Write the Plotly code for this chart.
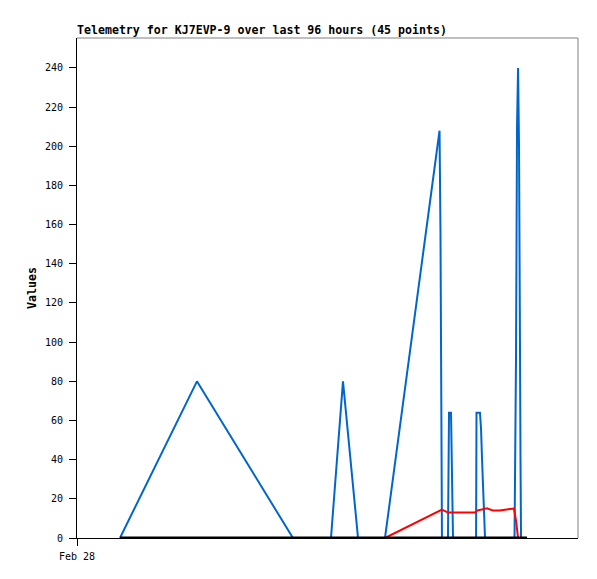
import plotly.graph_objects as go

title_text = "Telemetry for KJ7EVP-9 over last 96 hours (45 points)"
y_title = "Values"

x_start = "2025-02-28 00:00"
x_end = "2025-03-04 00:00"
x_tickvals = ["2025-02-28 00:00"]
x_ticktext = ["Feb 28"]

blue_t = [
    "2025-02-28 08:14", "2025-02-28 22:59", "2025-03-01 17:23",
    "2025-03-02 00:40", "2025-03-02 02:58", "2025-03-02 05:51",
    "2025-03-02 11:01", "2025-03-02 21:28", "2025-03-02 21:39",
    "2025-03-02 21:45", "2025-03-02 21:56", "2025-03-02 23:05",
    "2025-03-02 23:11", "2025-03-02 23:17", "2025-03-02 23:40",
    "2025-03-02 23:52", "2025-03-03 00:03", "2025-03-03 04:28",
    "2025-03-03 04:33", "2025-03-03 05:13", "2025-03-03 05:25",
    "2025-03-03 05:37", "2025-03-03 05:48", "2025-03-03 05:59",
    "2025-03-03 06:11", "2025-03-03 11:50", "2025-03-03 11:56",
    "2025-03-03 12:07", "2025-03-03 12:19", "2025-03-03 12:31",
    "2025-03-03 12:42", "2025-03-03 12:47", "2025-03-03 12:59",
    "2025-03-03 13:05",
]
blue_v = [
    0, 80, 0,
    0, 80, 0,
    0, 208, 156,
    52, 0, 0,
    47, 64, 64,
    32, 0, 0,
    64, 64, 56,
    40, 23, 8,
    0, 0, 30,
    90, 210, 240,
    200, 125, 40,
    0,
]

red_t = [
    "2025-03-02 11:01", "2025-03-02 21:34", "2025-03-02 21:56",
    "2025-03-02 23:05", "2025-03-03 04:16", "2025-03-03 04:39",
    "2025-03-03 06:34", "2025-03-03 07:43", "2025-03-03 09:04",
    "2025-03-03 10:58", "2025-03-03 11:44", "2025-03-03 12:07",
    "2025-03-03 12:19", "2025-03-03 12:31",
]
red_v = [0, 14, 14.5, 13, 13, 14, 15.2, 14, 14, 14.8, 15, 9, 4, 0]

black_t = ["2025-02-28 08:14", "2025-03-03 14:14"]
black_v = [0, 0]

fig = go.Figure()
fig.add_trace(go.Scatter(x=blue_t, y=blue_v, mode="lines",
                         line=dict(color="#0066CC", width=2)))
fig.add_trace(go.Scatter(x=red_t, y=red_v, mode="lines",
                         line=dict(color="#FF0000", width=2)))
fig.add_trace(go.Scatter(x=black_t, y=black_v, mode="lines",
                         line=dict(color="#000000", width=3)))

mono = "DejaVu Sans Mono"
H = 571
fig.update_layout(
    width=589, height=H,
    margin=dict(l=69, r=19, t=30, b=41, autoexpand=False),
    paper_bgcolor="white", plot_bgcolor="white",
    showlegend=False,
    hovermode=False,
    font=dict(family=mono, size=10, color="#000000"),
    title=dict(text="<b>" + title_text + "</b>", x=69 / 589, xanchor="left",
               y=1 - 26 / H, yanchor="bottom", yref="container",
               font=dict(family=mono, size=11.6, color="#000000")),
    xaxis=dict(type="date", range=[x_start, x_end],
               tickvals=x_tickvals, ticktext=x_ticktext,
               ticks="outside", ticklen=7, tickcolor="#000000",
               ticklabelstandoff=2,
               showgrid=False, zeroline=False, automargin=False,
               showline=True, linecolor="#000000", linewidth=1,
               tickfont=dict(family=mono, size=10, color="#000000")),
    yaxis=dict(range=[0, 255.3], dtick=20, tick0=0,
               ticks="outside", ticklen=7, tickcolor="#000000",
               ticklabelstandoff=4,
               showgrid=False, zeroline=False, automargin=False,
               showline=True, linecolor="#000000", linewidth=1,
               tickfont=dict(family=mono, size=10, color="#000000"),
               title=dict(text="<b>" + y_title + "</b>", standoff=5,
                          font=dict(family=mono, size=11.6, color="#000000"))),
    shapes=[
        dict(type="line", xref="paper", yref="paper", x0=0, x1=1, y0=1, y1=1,
             line=dict(color="#808080", width=1)),
        dict(type="line", xref="paper", yref="paper", x0=1, x1=1, y0=0, y1=1,
             line=dict(color="#808080", width=1)),
    ],
)

fig.write_html("out.html")
